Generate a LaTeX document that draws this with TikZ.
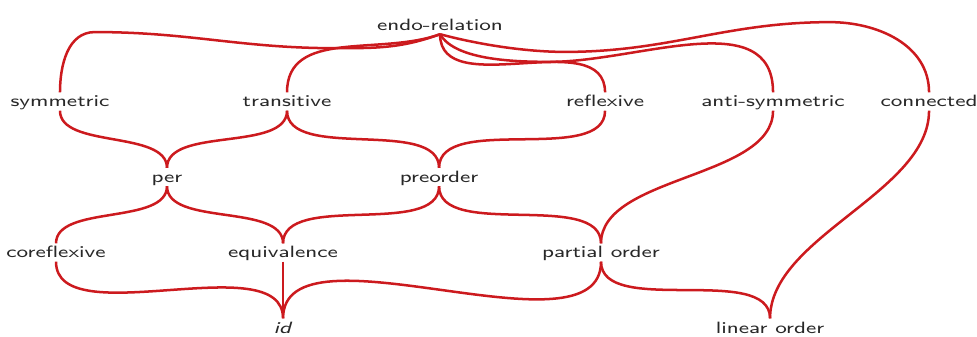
\documentclass[tikz,border=0pt]{standalone}
\usepackage{fontspec}
\definecolor{linkred}{RGB}{204,26,30}
\definecolor{labelgray}{RGB}{40,40,40}

\begin{document}
\begin{tikzpicture}
 [
 prop/.style={font=\sffamily\fontsize{7.5}{9}\selectfont, text=labelgray, xscale=1.333, anchor=base, inner sep=0pt, text height=6.5pt, text depth=1.5pt},
 link/.style={draw=linkred, line width=1.15pt},
 sway/.style={out=-90, in=90, looseness=0.8}
 ]
 \useasboundingbox (0,0) rectangle (15.75,5.417);
 \node at (7.094,4.925) [prop] (endo)        {endo-relation};
 \node at (0.967,3.692) [prop] (symmetric)   {symmetric};
 \node at (4.627,3.692) [prop] (transitive)  {transitive};
 \node at (9.754,3.692) [prop] (reflexive)   {reflexive};
 \node at (12.462,3.692) [prop] (antisym)    {anti-symmetric};
 \node at (14.977,3.692) [prop] (connected)  {connected};
 \node at (2.692,2.475) [prop] (per)         {per};
 \node at (7.078,2.475) [prop] (preorder)    {preorder};
 \node at (0.903,1.258) [prop] (coreflexive) {coreflexive};
 \node at (4.563,1.258) [prop] (equivalence) {equivalence};
 \node at (9.689,1.258) [prop] (partial)     {partial order};
 \node at (4.563,0.048) [prop] (id)          {\textit{id}};
 \node at (12.414,0.048) [prop] (linear)     {linear order};
 % top layer
 \draw [link] (endo.south) to [out=200,in=0] (5.40,4.64) to [out=180,in=0] (1.53,4.90) to [out=180,in=90] (symmetric.north);
 \draw [link] (transitive.north) to [out=90,in=200] (endo.south);
 \draw [link] (endo.south) to [out=-90,in=90] (reflexive.north);
 \draw [link] (endo.south) to [out=-60,in=180,looseness=0.7] (8.87,4.42) to [out=0,in=90] (antisym.north);
 \draw [link] (endo.south) to [out=-15,in=180,looseness=0.8] (9.11,4.58) to [out=0,in=180] (13.38,5.06) to [out=0,in=90] (connected.north);
 % middle
 \draw [link] (symmetric.south) to [sway] (per.north);
 \draw [link] (transitive.south) to [sway] (per.north);
 \draw [link] (transitive.south) to [sway] (preorder.north);
 \draw [link] (reflexive.south) to [sway] (preorder.north);
 \draw [link] (per.south) to [sway] (coreflexive.north);
 \draw [link] (per.south) to [sway] (equivalence.north);
 \draw [link] (preorder.south) to [sway] (equivalence.north);
 \draw [link] (preorder.south) to [sway] (partial.north);
 \draw [link] (antisym.south) to [sway] (partial.north);
 % bottom
 \draw [link] (coreflexive.south) to [sway] (id.north);
 \draw [link] (equivalence.south) -- (id.north);
 \draw [link] (partial.south) to [sway] (id.north);
 \draw [link] (partial.south) to [sway] (linear.north);
 \draw [link] (connected.south) to [sway] (linear.north);
\end{tikzpicture}
\end{document}
